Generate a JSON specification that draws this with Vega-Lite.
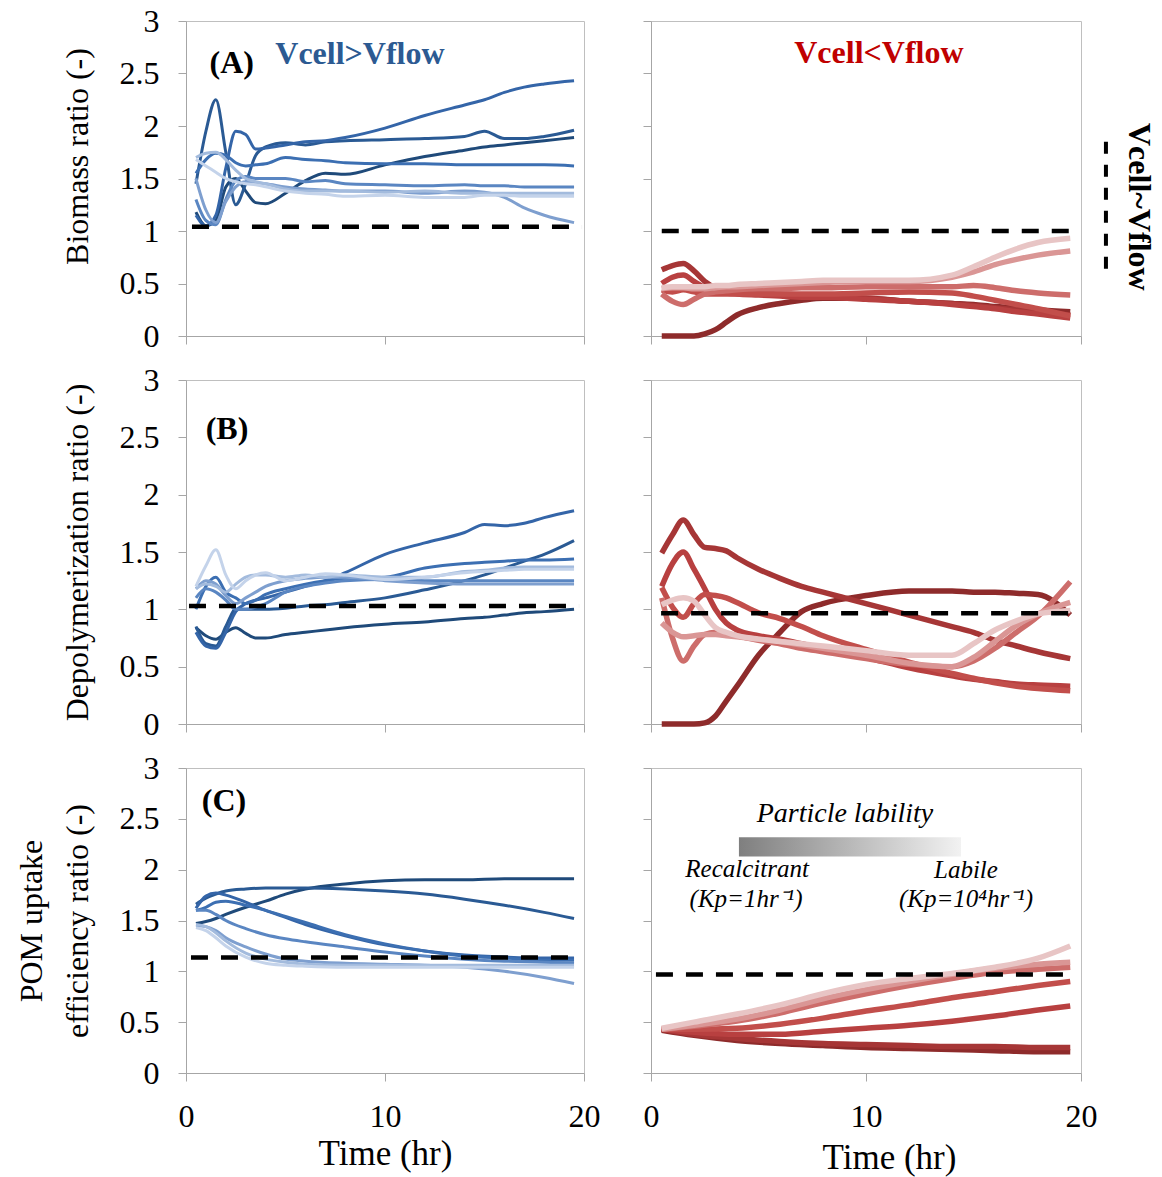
{
  "$schema": "https://vega.github.io/schema/vega-lite/v6.json",
  "padding": {"left": 14, "top": 4, "right": 5, "bottom": 5},
  "config": {
    "font": "Liberation Serif",
    "view": {"stroke": "#bfbfbf", "strokeWidth": 1},
    "axis": {"grid": false, "domainColor": "#a6a6a6", "tickColor": "#a6a6a6", "tickSize": 8, "labelFont": "Liberation Serif", "labelFontSize": 32, "labelColor": "#000", "titleFont": "Liberation Serif", "titleFontSize": 32, "titleFontWeight": "normal", "titleColor": "#000", "labelFlush": false, "labelOverlap": false},
    "axisY": {"labelPadding": 19, "titlePadding": 25, "titleLineHeight": 46},
    "axisX": {"labelPadding": 20, "titlePadding": 4}
  },
  "datasets": {
    "AL": [
      {"t":0.5,"b1":1.18,"b2":1.45,"b3":1.15,"b4":1.55,"b5":1.30,"b6":1.50,"b7":1.70,"b8":1.68},
      {"t":1,"b1":1.05,"b2":1.95,"b3":1.05,"b4":1.68,"b5":1.10,"b6":1.20,"b7":1.74,"b8":1.62},
      {"t":1.5,"b1":1.10,"b2":2.25,"b3":1.15,"b4":1.74,"b5":1.06,"b6":1.08,"b7":1.75,"b8":1.56},
      {"t":2,"b1":1.42,"b2":1.75,"b3":1.60,"b4":1.72,"b5":1.30,"b6":1.28,"b7":1.68,"b8":1.50},
      {"t":2.5,"b1":1.50,"b2":1.25,"b3":1.95,"b4":1.65,"b5":1.48,"b6":1.42,"b7":1.58,"b8":1.47},
      {"t":3,"b1":1.38,"b2":1.45,"b3":1.92,"b4":1.62,"b5":1.52,"b6":1.47,"b7":1.50,"b8":1.45},
      {"t":3.5,"b1":1.27,"b2":1.72,"b3":1.78,"b4":1.63,"b5":1.50,"b6":1.46,"b7":1.47,"b8":1.44},
      {"t":4,"b1":1.26,"b2":1.80,"b3":1.79,"b4":1.64,"b5":1.50,"b6":1.45,"b7":1.45,"b8":1.42},
      {"t":5,"b1":1.36,"b2":1.84,"b3":1.82,"b4":1.70,"b5":1.50,"b6":1.42,"b7":1.40,"b8":1.38},
      {"t":6,"b1":1.48,"b2":1.82,"b3":1.85,"b4":1.68,"b5":1.47,"b6":1.40,"b7":1.38,"b8":1.36},
      {"t":7,"b1":1.55,"b2":1.85,"b3":1.86,"b4":1.67,"b5":1.48,"b6":1.39,"b7":1.38,"b8":1.35},
      {"t":8,"b1":1.54,"b2":1.86,"b3":1.89,"b4":1.65,"b5":1.45,"b6":1.38,"b7":1.38,"b8":1.33},
      {"t":10,"b1":1.63,"b2":1.87,"b3":1.98,"b4":1.64,"b5":1.44,"b6":1.38,"b7":1.37,"b8":1.34},
      {"t":12,"b1":1.71,"b2":1.88,"b3":2.10,"b4":1.64,"b5":1.43,"b6":1.36,"b7":1.38,"b8":1.32},
      {"t":14,"b1":1.77,"b2":1.90,"b3":2.20,"b4":1.63,"b5":1.44,"b6":1.38,"b7":1.36,"b8":1.32},
      {"t":15,"b1":1.80,"b2":1.95,"b3":2.25,"b4":1.63,"b5":1.43,"b6":1.37,"b7":1.36,"b8":1.34},
      {"t":16,"b1":1.82,"b2":1.88,"b3":2.32,"b4":1.63,"b5":1.43,"b6":1.32,"b7":1.36,"b8":1.34},
      {"t":17,"b1":1.84,"b2":1.88,"b3":2.37,"b4":1.63,"b5":1.42,"b6":1.22,"b7":1.36,"b8":1.33},
      {"t":18,"b1":1.86,"b2":1.90,"b3":2.40,"b4":1.63,"b5":1.42,"b6":1.15,"b7":1.36,"b8":1.33},
      {"t":19.5,"b1":1.89,"b2":1.96,"b3":2.43,"b4":1.62,"b5":1.42,"b6":1.08,"b7":1.36,"b8":1.33}
    ],
    "AR": [
      {"t":0.5,"r1":0.0,"r2":0.63,"r3":0.50,"r4":0.44,"r5":0.40,"r6":0.45,"r7":0.46},
      {"t":1,"r1":0.0,"r2":0.67,"r3":0.56,"r4":0.42,"r5":0.33,"r6":0.46,"r7":0.47},
      {"t":1.5,"r1":0.0,"r2":0.69,"r3":0.58,"r4":0.44,"r5":0.30,"r6":0.46,"r7":0.47},
      {"t":2,"r1":0.0,"r2":0.62,"r3":0.52,"r4":0.42,"r5":0.35,"r6":0.45,"r7":0.47},
      {"t":2.5,"r1":0.02,"r2":0.52,"r3":0.46,"r4":0.40,"r5":0.40,"r6":0.45,"r7":0.47},
      {"t":3,"r1":0.06,"r2":0.46,"r3":0.43,"r4":0.40,"r5":0.42,"r6":0.46,"r7":0.48},
      {"t":3.5,"r1":0.13,"r2":0.44,"r3":0.41,"r4":0.40,"r5":0.43,"r6":0.47,"r7":0.48},
      {"t":4,"r1":0.20,"r2":0.43,"r3":0.40,"r4":0.40,"r5":0.44,"r6":0.47,"r7":0.49},
      {"t":5,"r1":0.27,"r2":0.41,"r3":0.39,"r4":0.40,"r5":0.45,"r6":0.48,"r7":0.50},
      {"t":6,"r1":0.31,"r2":0.40,"r3":0.38,"r4":0.40,"r5":0.45,"r6":0.49,"r7":0.51},
      {"t":7,"r1":0.34,"r2":0.39,"r3":0.37,"r4":0.40,"r5":0.46,"r6":0.50,"r7":0.52},
      {"t":8,"r1":0.36,"r2":0.38,"r3":0.37,"r4":0.40,"r5":0.46,"r6":0.51,"r7":0.53},
      {"t":10,"r1":0.36,"r2":0.36,"r3":0.35,"r4":0.41,"r5":0.47,"r6":0.52,"r7":0.53},
      {"t":12,"r1":0.33,"r2":0.33,"r3":0.33,"r4":0.42,"r5":0.47,"r6":0.52,"r7":0.53},
      {"t":14,"r1":0.31,"r2":0.31,"r3":0.30,"r4":0.41,"r5":0.47,"r6":0.56,"r7":0.58},
      {"t":15,"r1":0.30,"r2":0.29,"r3":0.28,"r4":0.38,"r5":0.48,"r6":0.61,"r7":0.66},
      {"t":16,"r1":0.28,"r2":0.27,"r3":0.26,"r4":0.34,"r5":0.46,"r6":0.68,"r7":0.75},
      {"t":17,"r1":0.27,"r2":0.25,"r3":0.23,"r4":0.30,"r5":0.43,"r6":0.73,"r7":0.83},
      {"t":18,"r1":0.25,"r2":0.23,"r3":0.21,"r4":0.26,"r5":0.41,"r6":0.77,"r7":0.89},
      {"t":19.5,"r1":0.23,"r2":0.20,"r3":0.17,"r4":0.19,"r5":0.39,"r6":0.81,"r7":0.93}
    ],
    "BL": [
      {"t":0.5,"b1":0.84,"b2":0.85,"b3":0.80,"b4":1.00,"b5":1.10,"b6":1.18,"b7":1.18,"b8":1.20},
      {"t":1,"b1":0.77,"b2":0.70,"b3":0.68,"b4":1.20,"b5":1.18,"b6":1.25,"b7":1.22,"b8":1.38},
      {"t":1.5,"b1":0.74,"b2":0.68,"b3":0.66,"b4":1.28,"b5":1.15,"b6":1.22,"b7":1.20,"b8":1.52},
      {"t":2,"b1":0.80,"b2":0.85,"b3":0.80,"b4":1.15,"b5":1.08,"b6":1.12,"b7":1.15,"b8":1.30},
      {"t":2.5,"b1":0.84,"b2":1.00,"b3":0.98,"b4":1.10,"b5":1.00,"b6":1.05,"b7":1.22,"b8":1.18},
      {"t":3,"b1":0.79,"b2":1.00,"b3":1.05,"b4":1.05,"b5":1.00,"b6":1.10,"b7":1.28,"b8":1.25},
      {"t":3.5,"b1":0.75,"b2":1.00,"b3":1.08,"b4":1.08,"b5":1.02,"b6":1.15,"b7":1.30,"b8":1.30},
      {"t":4,"b1":0.75,"b2":1.00,"b3":1.10,"b4":1.13,"b5":1.05,"b6":1.20,"b7":1.30,"b8":1.32},
      {"t":5,"b1":0.78,"b2":1.01,"b3":1.15,"b4":1.18,"b5":1.15,"b6":1.25,"b7":1.28,"b8":1.25},
      {"t":6,"b1":0.80,"b2":1.03,"b3":1.20,"b4":1.22,"b5":1.20,"b6":1.27,"b7":1.30,"b8":1.28},
      {"t":7,"b1":0.82,"b2":1.04,"b3":1.25,"b4":1.25,"b5":1.23,"b6":1.28,"b7":1.28,"b8":1.31},
      {"t":8,"b1":0.84,"b2":1.06,"b3":1.32,"b4":1.27,"b5":1.25,"b6":1.28,"b7":1.30,"b8":1.30},
      {"t":10,"b1":0.87,"b2":1.10,"b3":1.48,"b4":1.28,"b5":1.26,"b6":1.25,"b7":1.28,"b8":1.26},
      {"t":12,"b1":0.89,"b2":1.17,"b3":1.58,"b4":1.36,"b5":1.25,"b6":1.23,"b7":1.28,"b8":1.28},
      {"t":14,"b1":0.92,"b2":1.25,"b3":1.67,"b4":1.40,"b5":1.25,"b6":1.22,"b7":1.33,"b8":1.32},
      {"t":15,"b1":0.93,"b2":1.30,"b3":1.74,"b4":1.41,"b5":1.25,"b6":1.22,"b7":1.34,"b8":1.33},
      {"t":16,"b1":0.95,"b2":1.36,"b3":1.73,"b4":1.42,"b5":1.25,"b6":1.22,"b7":1.36,"b8":1.34},
      {"t":17,"b1":0.97,"b2":1.42,"b3":1.75,"b4":1.43,"b5":1.25,"b6":1.22,"b7":1.37,"b8":1.35},
      {"t":18,"b1":0.98,"b2":1.48,"b3":1.80,"b4":1.43,"b5":1.25,"b6":1.22,"b7":1.37,"b8":1.35},
      {"t":19.5,"b1":1.00,"b2":1.60,"b3":1.86,"b4":1.44,"b5":1.25,"b6":1.22,"b7":1.37,"b8":1.35}
    ],
    "BR": [
      {"t":0.5,"r1":0.0,"r2":1.49,"r3":1.20,"r4":1.19,"r5":1.10,"r6":0.88,"r7":1.04},
      {"t":1,"r1":0.0,"r2":1.65,"r3":1.40,"r4":1.02,"r5":0.75,"r6":0.80,"r7":1.08},
      {"t":1.5,"r1":0.0,"r2":1.78,"r3":1.50,"r4":0.93,"r5":0.55,"r6":0.76,"r7":1.10},
      {"t":2,"r1":0.0,"r2":1.65,"r3":1.35,"r4":1.05,"r5":0.68,"r6":0.77,"r7":1.07},
      {"t":2.5,"r1":0.01,"r2":1.54,"r3":1.18,"r4":1.13,"r5":0.78,"r6":0.78,"r7":0.95},
      {"t":3,"r1":0.07,"r2":1.53,"r3":1.00,"r4":1.12,"r5":0.80,"r6":0.78,"r7":0.84},
      {"t":3.5,"r1":0.20,"r2":1.51,"r3":0.88,"r4":1.10,"r5":0.79,"r6":0.77,"r7":0.80},
      {"t":4,"r1":0.33,"r2":1.45,"r3":0.82,"r4":1.06,"r5":0.77,"r6":0.76,"r7":0.77},
      {"t":5,"r1":0.60,"r2":1.35,"r3":0.77,"r4":0.97,"r5":0.73,"r6":0.74,"r7":0.74},
      {"t":6,"r1":0.80,"r2":1.27,"r3":0.74,"r4":0.92,"r5":0.70,"r6":0.72,"r7":0.72},
      {"t":7,"r1":0.98,"r2":1.20,"r3":0.70,"r4":0.85,"r5":0.66,"r6":0.69,"r7":0.70},
      {"t":8,"r1":1.05,"r2":1.15,"r3":0.66,"r4":0.77,"r5":0.63,"r6":0.66,"r7":0.68},
      {"t":10,"r1":1.12,"r2":1.05,"r3":0.58,"r4":0.65,"r5":0.57,"r6":0.60,"r7":0.64},
      {"t":12,"r1":1.16,"r2":0.95,"r3":0.49,"r4":0.54,"r5":0.52,"r6":0.53,"r7":0.60},
      {"t":14,"r1":1.16,"r2":0.85,"r3":0.42,"r4":0.44,"r5":0.50,"r6":0.50,"r7":0.60},
      {"t":15,"r1":1.15,"r2":0.80,"r3":0.39,"r4":0.40,"r5":0.55,"r6":0.58,"r7":0.70},
      {"t":16,"r1":1.15,"r2":0.73,"r3":0.37,"r4":0.36,"r5":0.66,"r6":0.72,"r7":0.82},
      {"t":17,"r1":1.14,"r2":0.68,"r3":0.35,"r4":0.33,"r5":0.80,"r6":0.86,"r7":0.90},
      {"t":18,"r1":1.13,"r2":0.63,"r3":0.34,"r4":0.31,"r5":0.94,"r6":0.96,"r7":0.96},
      {"t":19.5,"r1":0.95,"r2":0.57,"r3":0.33,"r4":0.29,"r5":1.24,"r6":1.06,"r7":0.99}
    ],
    "CL": [
      {"t":0.5,"b1":1.47,"b2":1.66,"b3":1.62,"b4":1.60,"b5":1.60,"b6":1.45,"b7":1.46,"b8":1.43},
      {"t":1,"b1":1.49,"b2":1.72,"b3":1.74,"b4":1.63,"b5":1.60,"b6":1.44,"b7":1.44,"b8":1.40},
      {"t":1.5,"b1":1.52,"b2":1.76,"b3":1.77,"b4":1.68,"b5":1.56,"b6":1.40,"b7":1.38,"b8":1.33},
      {"t":2,"b1":1.56,"b2":1.79,"b3":1.75,"b4":1.69,"b5":1.50,"b6":1.33,"b7":1.30,"b8":1.25},
      {"t":3,"b1":1.63,"b2":1.81,"b3":1.68,"b4":1.65,"b5":1.42,"b6":1.24,"b7":1.18,"b8":1.14},
      {"t":4,"b1":1.69,"b2":1.82,"b3":1.60,"b4":1.60,"b5":1.36,"b6":1.17,"b7":1.12,"b8":1.08},
      {"t":5,"b1":1.76,"b2":1.82,"b3":1.53,"b4":1.54,"b5":1.32,"b6":1.12,"b7":1.09,"b8":1.06},
      {"t":6,"b1":1.81,"b2":1.82,"b3":1.46,"b4":1.48,"b5":1.29,"b6":1.10,"b7":1.07,"b8":1.05},
      {"t":8,"b1":1.86,"b2":1.81,"b3":1.35,"b4":1.36,"b5":1.24,"b6":1.08,"b7":1.06,"b8":1.04},
      {"t":10,"b1":1.89,"b2":1.79,"b3":1.26,"b4":1.27,"b5":1.19,"b6":1.07,"b7":1.06,"b8":1.04},
      {"t":12,"b1":1.90,"b2":1.76,"b3":1.20,"b4":1.20,"b5":1.15,"b6":1.06,"b7":1.06,"b8":1.04},
      {"t":14,"b1":1.90,"b2":1.71,"b3":1.16,"b4":1.15,"b5":1.12,"b6":1.04,"b7":1.06,"b8":1.04},
      {"t":16,"b1":1.91,"b2":1.65,"b3":1.14,"b4":1.13,"b5":1.10,"b6":1.00,"b7":1.06,"b8":1.04},
      {"t":18,"b1":1.91,"b2":1.58,"b3":1.13,"b4":1.11,"b5":1.09,"b6":0.94,"b7":1.06,"b8":1.04},
      {"t":19.5,"b1":1.91,"b2":1.52,"b3":1.13,"b4":1.11,"b5":1.08,"b6":0.88,"b7":1.06,"b8":1.04}
    ],
    "CR": [
      {"t":0.5,"r1":0.42,"r2":0.43,"r3":0.43,"r4":0.43,"r5":0.43,"r6":0.43,"r7":0.44},
      {"t":2,"r1":0.37,"r2":0.38,"r3":0.40,"r4":0.43,"r5":0.46,"r6":0.47,"r7":0.50},
      {"t":4,"r1":0.32,"r2":0.34,"r3":0.38,"r4":0.44,"r5":0.51,"r6":0.53,"r7":0.58},
      {"t":6,"r1":0.29,"r2":0.31,"r3":0.38,"r4":0.48,"r5":0.59,"r6":0.62,"r7":0.67},
      {"t":8,"r1":0.27,"r2":0.29,"r3":0.41,"r4":0.54,"r5":0.69,"r6":0.73,"r7":0.78},
      {"t":10,"r1":0.25,"r2":0.28,"r3":0.44,"r4":0.61,"r5":0.78,"r6":0.82,"r7":0.87},
      {"t":12,"r1":0.24,"r2":0.27,"r3":0.47,"r4":0.67,"r5":0.86,"r6":0.90,"r7":0.93},
      {"t":14,"r1":0.23,"r2":0.26,"r3":0.51,"r4":0.74,"r5":0.93,"r6":0.97,"r7":0.98},
      {"t":16,"r1":0.22,"r2":0.26,"r3":0.56,"r4":0.80,"r5":0.99,"r6":1.03,"r7":1.04},
      {"t":18,"r1":0.21,"r2":0.25,"r3":0.62,"r4":0.86,"r5":1.02,"r6":1.07,"r7":1.13},
      {"t":19.5,"r1":0.21,"r2":0.25,"r3":0.66,"r4":0.90,"r5":1.04,"r6":1.09,"r7":1.25}
    ]
  },
  "columns": 2,
  "align": "each",
  "bounds": "flush",
  "spacing": {"row": 44, "column": 67},
  "concat": [
    {
      "width": 398, "height": 315,
      "layer": [
        {"data": {"name": "AL"},
         "transform": [{"fold": ["b1","b2","b3","b4","b5","b6","b7","b8"], "as": ["s","v"]}],
         "mark": {"type": "line", "interpolate": "monotone", "strokeWidth": 3},
         "encoding": {
           "x": {"field": "t", "type": "quantitative", "scale": {"domain": [0,20], "nice": false}, "axis": {"values": [0,10,20], "labels": false, "title": null}},
           "y": {"field": "v", "type": "quantitative", "scale": {"domain": [0,3], "nice": false}, "axis": {"values": [0,0.5,1,1.5,2,2.5,3], "format": "~g", "title": "Biomass ratio (-)", "titleY": 135}},
           "color": {"field": "s", "type": "nominal", "legend": null, "scale": {"domain": ["b1","b2","b3","b4","b5","b6","b7","b8","r1","r2","r3","r4","r5","r6","r7"], "range": ["#1F4A7A","#2A5A94","#3465A8","#3C6FB2","#5A86C2","#7E9FCF","#A3BBDD","#C4D3EA","#8E2B2B","#A63636","#B84040","#C24E4B","#CD6D6B","#DA9695","#E8C5C5"]}}
         }},
        {"data": {"values": [{}]},
         "mark": {"type": "rule", "strokeDash": [17,13], "strokeWidth": 4.5, "color": "#000"},
         "encoding": {"x": {"datum": 0.3, "type": "quantitative", "scale": {"domain": [0,20], "nice": false}}, "x2": {"datum": 19.9}, "y": {"datum": 1.04, "type": "quantitative", "scale": {"domain": [0,3], "nice": false}}}},
        {"data": {"values": [{}]},
         "mark": {"type": "text", "fontSize": 32, "fontWeight": "bold", "color": "#000", "font": "Liberation Serif"},
         "encoding": {"x": {"datum": 2.3, "type": "quantitative", "scale": {"domain": [0,20], "nice": false}}, "y": {"datum": 2.6, "type": "quantitative", "scale": {"domain": [0,3], "nice": false}}, "text": {"value": "(A)"}}},
        {"data": {"values": [{}]},
         "mark": {"type": "text", "fontSize": 32, "fontWeight": "bold", "color": "#2C5A92", "font": "Liberation Serif"},
         "encoding": {"x": {"datum": 8.74, "type": "quantitative", "scale": {"domain": [0,20], "nice": false}}, "y": {"datum": 2.69, "type": "quantitative", "scale": {"domain": [0,3], "nice": false}}, "text": {"value": "Vcell>Vflow"}}}
      ]
    },
    {
      "width": 430, "height": 315,
      "layer": [
        {"data": {"name": "AR"},
         "transform": [{"fold": ["r1","r2","r3","r4","r5","r6","r7"], "as": ["s","v"]}],
         "mark": {"type": "line", "interpolate": "monotone", "strokeWidth": 5.5},
         "encoding": {
           "x": {"field": "t", "type": "quantitative", "scale": {"domain": [0,20], "nice": false}, "axis": {"values": [0,10,20], "labels": false, "title": null}},
           "y": {"field": "v", "type": "quantitative", "scale": {"domain": [0,3], "nice": false}, "axis": {"values": [0,0.5,1,1.5,2,2.5,3], "labels": false, "title": null}},
           "color": {"field": "s", "type": "nominal", "legend": null, "scale": {"domain": ["b1","b2","b3","b4","b5","b6","b7","b8","r1","r2","r3","r4","r5","r6","r7"], "range": ["#1F4A7A","#2A5A94","#3465A8","#3C6FB2","#5A86C2","#7E9FCF","#A3BBDD","#C4D3EA","#8E2B2B","#A63636","#B84040","#C24E4B","#CD6D6B","#DA9695","#E8C5C5"]}}
         }},
        {"data": {"values": [{}]},
         "mark": {"type": "rule", "strokeDash": [17,13], "strokeWidth": 4.5, "color": "#000"},
         "encoding": {"x": {"datum": 0.5, "type": "quantitative", "scale": {"domain": [0,20], "nice": false}}, "x2": {"datum": 19.6}, "y": {"datum": 1.0, "type": "quantitative", "scale": {"domain": [0,3], "nice": false}}}},
        {"data": {"values": [{}]},
         "mark": {"type": "rule", "strokeDash": [12,11], "strokeWidth": 4, "color": "#000"},
         "encoding": {"x": {"datum": 21.16, "type": "quantitative", "scale": {"domain": [0,20], "nice": false}}, "y": {"datum": 1.85, "type": "quantitative", "scale": {"domain": [0,3], "nice": false}}, "y2": {"datum": 0.59}}},
        {"data": {"values": [{}]},
         "mark": {"type": "text", "fontSize": 32, "fontWeight": "bold", "color": "#000", "font": "Liberation Serif", "angle": 90},
         "encoding": {"x": {"datum": 22.7, "type": "quantitative", "scale": {"domain": [0,20], "nice": false}}, "y": {"datum": 1.23, "type": "quantitative", "scale": {"domain": [0,3], "nice": false}}, "text": {"value": "Vcell~Vflow"}}},
        {"data": {"values": [{}]},
         "mark": {"type": "text", "fontSize": 32, "fontWeight": "bold", "color": "#C00000", "font": "Liberation Serif"},
         "encoding": {"x": {"datum": 10.6, "type": "quantitative", "scale": {"domain": [0,20], "nice": false}}, "y": {"datum": 2.7, "type": "quantitative", "scale": {"domain": [0,3], "nice": false}}, "text": {"value": "Vcell<Vflow"}}}
      ]
    },
    {
      "width": 398, "height": 344,
      "layer": [
        {"data": {"name": "BL"},
         "transform": [{"fold": ["b1","b2","b3","b4","b5","b6","b7","b8"], "as": ["s","v"]}],
         "mark": {"type": "line", "interpolate": "monotone", "strokeWidth": 3},
         "encoding": {
           "x": {"field": "t", "type": "quantitative", "scale": {"domain": [0,20], "nice": false}, "axis": {"values": [0,10,20], "labels": false, "title": null}},
           "y": {"field": "v", "type": "quantitative", "scale": {"domain": [0,3], "nice": false}, "axis": {"values": [0,0.5,1,1.5,2,2.5,3], "format": "~g", "title": "Depolymerization ratio (-)"}},
           "color": {"field": "s", "type": "nominal", "legend": null, "scale": {"domain": ["b1","b2","b3","b4","b5","b6","b7","b8","r1","r2","r3","r4","r5","r6","r7"], "range": ["#1F4A7A","#2A5A94","#3465A8","#3C6FB2","#5A86C2","#7E9FCF","#A3BBDD","#C4D3EA","#8E2B2B","#A63636","#B84040","#C24E4B","#CD6D6B","#DA9695","#E8C5C5"]}}
         }},
        {"data": {"values": [{}]},
         "mark": {"type": "rule", "strokeDash": [17,13], "strokeWidth": 4.5, "color": "#000"},
         "encoding": {"x": {"datum": 0.15, "type": "quantitative", "scale": {"domain": [0,20], "nice": false}}, "x2": {"datum": 19.75}, "y": {"datum": 1.03, "type": "quantitative", "scale": {"domain": [0,3], "nice": false}}}},
        {"data": {"values": [{}]},
         "mark": {"type": "text", "fontSize": 32, "fontWeight": "bold", "color": "#000", "font": "Liberation Serif"},
         "encoding": {"x": {"datum": 2.06, "type": "quantitative", "scale": {"domain": [0,20], "nice": false}}, "y": {"datum": 2.57, "type": "quantitative", "scale": {"domain": [0,3], "nice": false}}, "text": {"value": "(B)"}}}
      ]
    },
    {
      "width": 430, "height": 344,
      "layer": [
        {"data": {"name": "BR"},
         "transform": [{"fold": ["r1","r2","r3","r4","r5","r6","r7"], "as": ["s","v"]}],
         "mark": {"type": "line", "interpolate": "monotone", "strokeWidth": 5.5},
         "encoding": {
           "x": {"field": "t", "type": "quantitative", "scale": {"domain": [0,20], "nice": false}, "axis": {"values": [0,10,20], "labels": false, "title": null}},
           "y": {"field": "v", "type": "quantitative", "scale": {"domain": [0,3], "nice": false}, "axis": {"values": [0,0.5,1,1.5,2,2.5,3], "labels": false, "title": null}},
           "color": {"field": "s", "type": "nominal", "legend": null, "scale": {"domain": ["b1","b2","b3","b4","b5","b6","b7","b8","r1","r2","r3","r4","r5","r6","r7"], "range": ["#1F4A7A","#2A5A94","#3465A8","#3C6FB2","#5A86C2","#7E9FCF","#A3BBDD","#C4D3EA","#8E2B2B","#A63636","#B84040","#C24E4B","#CD6D6B","#DA9695","#E8C5C5"]}}
         }},
        {"data": {"values": [{}]},
         "mark": {"type": "rule", "strokeDash": [17,13], "strokeWidth": 4.5, "color": "#000"},
         "encoding": {"x": {"datum": 0.47, "type": "quantitative", "scale": {"domain": [0,20], "nice": false}}, "x2": {"datum": 19.6}, "y": {"datum": 0.965, "type": "quantitative", "scale": {"domain": [0,3], "nice": false}}}}
      ]
    },
    {
      "width": 398, "height": 305,
      "layer": [
        {"data": {"name": "CL"},
         "transform": [{"fold": ["b1","b2","b3","b4","b5","b6","b7","b8"], "as": ["s","v"]}],
         "mark": {"type": "line", "interpolate": "monotone", "strokeWidth": 3},
         "encoding": {
           "x": {"field": "t", "type": "quantitative", "scale": {"domain": [0,20], "nice": false}, "axis": {"values": [0,10,20], "title": "Time (hr)", "titleFontSize": 35}},
           "y": {"field": "v", "type": "quantitative", "scale": {"domain": [0,3], "nice": false}, "axis": {"values": [0,0.5,1,1.5,2,2.5,3], "format": "~g", "title": ["POM uptake", "efficiency ratio (-)"]}},
           "color": {"field": "s", "type": "nominal", "legend": null, "scale": {"domain": ["b1","b2","b3","b4","b5","b6","b7","b8","r1","r2","r3","r4","r5","r6","r7"], "range": ["#1F4A7A","#2A5A94","#3465A8","#3C6FB2","#5A86C2","#7E9FCF","#A3BBDD","#C4D3EA","#8E2B2B","#A63636","#B84040","#C24E4B","#CD6D6B","#DA9695","#E8C5C5"]}}
         }},
        {"data": {"values": [{}]},
         "mark": {"type": "rule", "strokeDash": [17,13], "strokeWidth": 4.5, "color": "#000"},
         "encoding": {"x": {"datum": 0.25, "type": "quantitative", "scale": {"domain": [0,20], "nice": false}}, "x2": {"datum": 19.65}, "y": {"datum": 1.135, "type": "quantitative", "scale": {"domain": [0,3], "nice": false}}}},
        {"data": {"values": [{}]},
         "mark": {"type": "text", "fontSize": 32, "fontWeight": "bold", "color": "#000", "font": "Liberation Serif"},
         "encoding": {"x": {"datum": 1.91, "type": "quantitative", "scale": {"domain": [0,20], "nice": false}}, "y": {"datum": 2.68, "type": "quantitative", "scale": {"domain": [0,3], "nice": false}}, "text": {"value": "(C)"}}}
      ]
    },
    {
      "width": 430, "height": 305,
      "layer": [
        {"data": {"name": "CR"},
         "transform": [{"fold": ["r1","r2","r3","r4","r5","r6","r7"], "as": ["s","v"]}],
         "mark": {"type": "line", "interpolate": "monotone", "strokeWidth": 5.5},
         "encoding": {
           "x": {"field": "t", "type": "quantitative", "scale": {"domain": [0,20], "nice": false}, "axis": {"values": [0,10,20], "title": "Time (hr)", "titleFontSize": 35, "titleX": 238, "titlePadding": 8}},
           "y": {"field": "v", "type": "quantitative", "scale": {"domain": [0,3], "nice": false}, "axis": {"values": [0,0.5,1,1.5,2,2.5,3], "labels": false, "title": null}},
           "color": {"field": "s", "type": "nominal", "legend": null, "scale": {"domain": ["b1","b2","b3","b4","b5","b6","b7","b8","r1","r2","r3","r4","r5","r6","r7"], "range": ["#1F4A7A","#2A5A94","#3465A8","#3C6FB2","#5A86C2","#7E9FCF","#A3BBDD","#C4D3EA","#8E2B2B","#A63636","#B84040","#C24E4B","#CD6D6B","#DA9695","#E8C5C5"]}}
         }},
        {"data": {"values": [{}]},
         "mark": {"type": "rule", "strokeDash": [17,13], "strokeWidth": 4.5, "color": "#000"},
         "encoding": {"x": {"datum": 0.23, "type": "quantitative", "scale": {"domain": [0,20], "nice": false}}, "x2": {"datum": 19.6}, "y": {"datum": 0.97, "type": "quantitative", "scale": {"domain": [0,3], "nice": false}}}},
        {"data": {"values": [{}]},
         "mark": {"type": "rect", "fill": {"gradient": "linear", "x1": 0, "y1": 0, "x2": 1, "y2": 0, "stops": [{"offset": 0, "color": "#7f7f7f"}, {"offset": 1, "color": "#f2f2f2"}]}},
         "encoding": {"x": {"datum": 4.09, "type": "quantitative", "scale": {"domain": [0,20], "nice": false}}, "x2": {"datum": 14.42}, "y": {"datum": 2.32, "type": "quantitative", "scale": {"domain": [0,3], "nice": false}}, "y2": {"datum": 2.13}}},
        {"data": {"values": [{}]},
         "mark": {"type": "text", "fontSize": 28, "fontStyle": "italic", "color": "#000", "font": "Liberation Serif"},
         "encoding": {"x": {"datum": 9.02, "type": "quantitative", "scale": {"domain": [0,20], "nice": false}}, "y": {"datum": 2.55, "type": "quantitative", "scale": {"domain": [0,3], "nice": false}}, "text": {"value": "Particle lability"}}},
        {"data": {"values": [{}]},
         "mark": {"type": "text", "fontSize": 25, "fontStyle": "italic", "color": "#000", "font": "Liberation Serif"},
         "encoding": {"x": {"datum": 4.47, "type": "quantitative", "scale": {"domain": [0,20], "nice": false}}, "y": {"datum": 2.01, "type": "quantitative", "scale": {"domain": [0,3], "nice": false}}, "text": {"value": "Recalcitrant"}}},
        {"data": {"values": [{}]},
         "mark": {"type": "text", "fontSize": 25, "fontStyle": "italic", "color": "#000", "font": "Liberation Serif"},
         "encoding": {"x": {"datum": 4.42, "type": "quantitative", "scale": {"domain": [0,20], "nice": false}}, "y": {"datum": 1.71, "type": "quantitative", "scale": {"domain": [0,3], "nice": false}}, "text": {"value": "(Kp=1hr⁻¹)"}}},
        {"data": {"values": [{}]},
         "mark": {"type": "text", "fontSize": 25, "fontStyle": "italic", "color": "#000", "font": "Liberation Serif"},
         "encoding": {"x": {"datum": 14.65, "type": "quantitative", "scale": {"domain": [0,20], "nice": false}}, "y": {"datum": 2.0, "type": "quantitative", "scale": {"domain": [0,3], "nice": false}}, "text": {"value": "Labile"}}},
        {"data": {"values": [{}]},
         "mark": {"type": "text", "fontSize": 25, "fontStyle": "italic", "color": "#000", "font": "Liberation Serif"},
         "encoding": {"x": {"datum": 14.65, "type": "quantitative", "scale": {"domain": [0,20], "nice": false}}, "y": {"datum": 1.71, "type": "quantitative", "scale": {"domain": [0,3], "nice": false}}, "text": {"value": "(Kp=10⁴hr⁻¹)"}}}
      ]
    }
  ]
}
